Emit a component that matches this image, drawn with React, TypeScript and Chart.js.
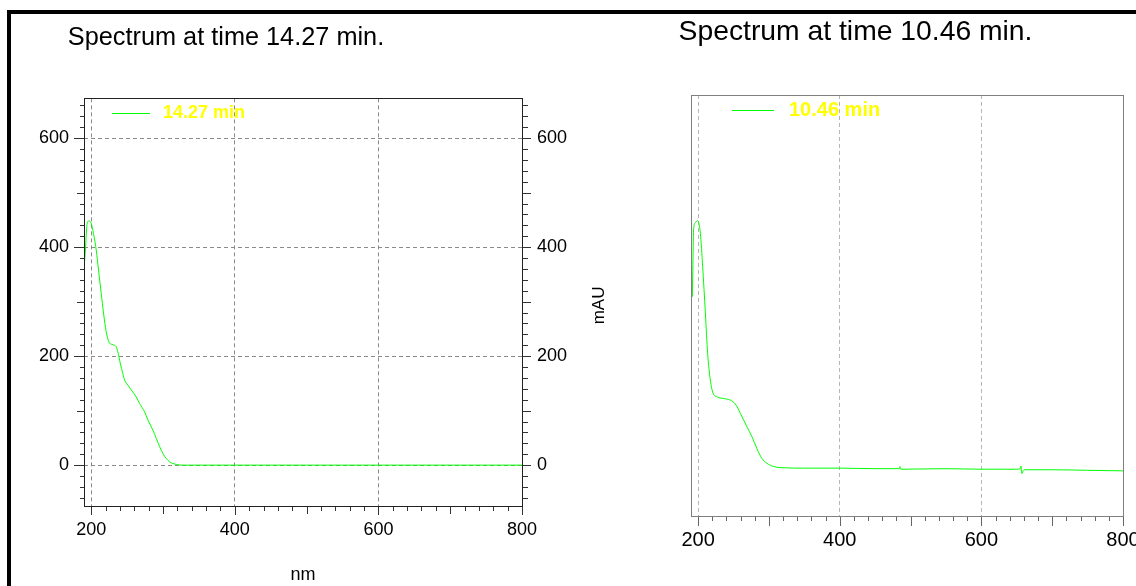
import React, { useEffect, useRef } from 'react';
import { Chart, registerables } from 'chart.js';

Chart.register(...registerables);

const FONT_FAMILY = '"Liberation Sans", Arial, Helvetica, sans-serif';
Chart.defaults.font.family = FONT_FAMILY;

// ---- Left panel: spectrum at 14.27 min ----
const LEFT_TITLE = 'Spectrum at time 14.27 min.';
const LEFT_SERIES_LABEL = '14.27 min';
const LEFT_WAVELENGTHS = [
  190, 192, 193.9, 196.2, 198.6, 200, 203.2, 207, 210.2, 214,
  217.2, 220.9, 224.6, 227.9, 232.5, 234.9, 237.1, 240.5, 244.1, 246.5,
  251.1, 255.8, 262.8, 267.4, 274.4, 279, 286, 290.7, 295.3, 300,
  304.7, 309.3, 313.9, 318.6, 325.6, 350, 400, 450, 500, 550,
  600, 650, 700, 750, 800,
];
const LEFT_MAU = [
  361, 395, 438, 448, 447, 444, 425, 395, 358, 315,
  279, 245, 226, 222, 220, 217, 208, 187, 168, 156,
  147, 138, 125, 113, 98, 83, 64, 49, 34, 21,
  12, 6, 3, 1.2, 0, 0, 0, 0, 0, 0,
  0, 0, 0, 0, 0,
];

// ---- Right panel: spectrum at 10.46 min ----
const RIGHT_TITLE = 'Spectrum at time 10.46 min.';
const RIGHT_SERIES_LABEL = '10.46 min';
const RIGHT_WAVELENGTHS = [
  190.5, 191.6, 193.8, 196, 199.4, 203.2, 206.5, 210.3, 213.5, 217.3,
  221.1, 226.8, 236.1, 245.5, 252.5, 259.6, 269, 276, 283, 290,
  297, 306.5, 316, 350, 400, 450, 484, 485, 486, 550,
  600, 650, 655, 656, 657, 660, 700, 750, 800,
];
const RIGHT_MAU = [
  401, 309, 435, 445, 449, 426, 364, 279, 205, 156,
  132, 125, 122, 119, 112, 95, 70, 52, 30, 12,
  3, -3, -5, -6, -6, -7, -7, -3, -8, -7,
  -8, -8, -7, -2, -16, -9, -9, -10, -11,
];

// ---- Axes ----
const X_TICK_VALUES = [200, 400, 600, 800];
const Y_TICK_VALUES = [0, 200, 400, 600];
const X_AXIS_TITLE = 'nm';
const Y_AXIS_TITLE = 'mAU';
const X_MIN = 190;
const X_MAX = 800;
const LEFT_Y_MIN = -75;
const LEFT_Y_MAX = 673;
const RIGHT_Y_MIN = -94;
const RIGHT_Y_MAX = 680;

const LINE_COLOR = '#00ff00';
const LEGEND_TEXT_COLOR = '#ffff00';

const toPoints = (xs: number[], ys: number[]) => xs.map((x, i) => ({ x, y: ys[i] }));

const axisDecorPlugin = {
  id: 'axisDecor',
  afterDraw(chart: any, _args: any, opts: any) {
    const { ctx, chartArea } = chart;
    const L = Math.round(chartArea.left);
    const R = Math.round(chartArea.right);
    const T = Math.round(chartArea.top);
    const B = Math.round(chartArea.bottom);
    ctx.save();
    ctx.lineWidth = 1;
    ctx.setLineDash([]);
    (opts.marks || []).forEach((m: any) => {
      const s = chart.scales[m.scale];
      ctx.strokeStyle = m.color;
      ctx.beginPath();
      for (let v = Math.ceil(s.min / m.step) * m.step; v <= s.max + 1e-9; v += m.step) {
        const len = v % 200 === 0 ? m.major : v % 100 === 0 ? m.mid : m.minor;
        const p = Math.round(s.getPixelForValue(v)) + 0.5;
        if (m.side === 'bottom') {
          ctx.moveTo(p, B);
          ctx.lineTo(p, B + len + 1);
        } else if (m.side === 'left') {
          ctx.moveTo(L + 1, p);
          ctx.lineTo(L - len, p);
        } else {
          ctx.moveTo(R, p);
          ctx.lineTo(R + len + 1, p);
        }
      }
      ctx.stroke();
    });
    ctx.strokeStyle = opts.frameColor;
    ctx.strokeRect(L + 0.5, T + 0.5, R - L, B - T);
    ctx.restore();
  },
};

const insideLegendPlugin = {
  id: 'insideLegend',
  afterDraw(chart: any, _args: any, o: any) {
    const ds = chart.data.datasets[0];
    const { ctx, chartArea } = chart;
    const y = Math.round(chartArea.top + o.offsetY);
    ctx.save();
    ctx.strokeStyle = ds.borderColor;
    ctx.lineWidth = 1;
    ctx.beginPath();
    ctx.moveTo(chartArea.left + o.lineFrom, y + 0.5);
    ctx.lineTo(chartArea.left + o.lineTo, y + 0.5);
    ctx.stroke();
    ctx.fillStyle = o.color;
    ctx.font = `bold ${o.size}px ${FONT_FAMILY}`;
    ctx.textBaseline = 'middle';
    ctx.textAlign = 'left';
    ctx.fillText(ds.label, chartArea.left + o.textX, y + 0.5);
    ctx.restore();
  },
};

const setTicks = (values: number[]) => (s: any) => {
  s.ticks = values.map((v) => ({ value: v }));
};

function leftConfig(): any {
  return {
    type: 'line',
    data: {
      datasets: [
        {
          label: LEFT_SERIES_LABEL,
          data: toPoints(LEFT_WAVELENGTHS, LEFT_MAU),
          borderColor: LINE_COLOR,
          borderWidth: 1,
          pointRadius: 0,
          fill: false,
          cubicInterpolationMode: 'monotone',
        },
      ],
    },
    options: {
      animation: false,
      responsive: false,
      maintainAspectRatio: false,
      events: [],
      layout: { padding: { left: 0, right: 0, top: 0, bottom: 0 } },
      plugins: {
        legend: { display: false },
        tooltip: { enabled: false },
        title: {
          display: true,
          text: LEFT_TITLE,
          align: 'center',
          color: '#000',
          font: { family: FONT_FAMILY, size: 25.3, weight: 'normal' },
          padding: { top: 8.5, bottom: 45.5 },
        },
        axisDecor: {
          frameColor: '#222',
          marks: [
            { scale: 'x', side: 'bottom', step: 20, minor: 4, mid: 7, major: 8, color: '#333' },
            { scale: 'y', side: 'left', step: 20, minor: 4, mid: 7, major: 10, color: '#333' },
            { scale: 'y2', side: 'right', step: 20, minor: 5, mid: 8, major: 8, color: '#333' },
          ],
        },
        insideLegend: { offsetY: 15, lineFrom: 28, lineTo: 66, textX: 79, size: 18, color: LEGEND_TEXT_COLOR },
      },
      scales: {
        x: {
          type: 'linear',
          position: 'bottom',
          min: X_MIN,
          max: X_MAX,
          afterBuildTicks: setTicks(X_TICK_VALUES),
          afterFit: (s: any) => {
            s.height = 98;
          },
          ticks: { color: '#000', font: { family: FONT_FAMILY, size: 18 }, padding: 13, maxRotation: 0, autoSkip: false },
          grid: { color: '#8a8a8a', lineWidth: 1, drawTicks: false },
          border: { display: false, dash: [4, 3] },
          title: {
            display: true,
            text: X_AXIS_TITLE,
            color: '#000',
            font: { family: FONT_FAMILY, size: 18 },
            padding: { top: 0, bottom: 17.8 },
          },
        },
        y: {
          type: 'linear',
          position: 'left',
          min: LEFT_Y_MIN,
          max: LEFT_Y_MAX,
          afterBuildTicks: setTicks(Y_TICK_VALUES),
          afterFit: (s: any) => {
            s.width = 204;
          },
          ticks: { color: '#000', font: { family: FONT_FAMILY, size: 18 }, padding: 15, autoSkip: false },
          grid: { color: '#8a8a8a', lineWidth: 1, drawTicks: false },
          border: { display: false, dash: [4, 3] },
        },
        y2: {
          type: 'linear',
          position: 'right',
          min: LEFT_Y_MIN,
          max: LEFT_Y_MAX,
          afterBuildTicks: setTicks(Y_TICK_VALUES),
          afterFit: (s: any) => {
            s.width = 50;
          },
          ticks: { color: '#000', font: { family: FONT_FAMILY, size: 18 }, padding: 15, autoSkip: false },
          grid: { display: false, drawTicks: false },
          border: { display: false },
        },
      },
    },
    plugins: [axisDecorPlugin, insideLegendPlugin],
  };
}

function rightConfig(): any {
  return {
    type: 'line',
    data: {
      datasets: [
        {
          label: RIGHT_SERIES_LABEL,
          data: toPoints(RIGHT_WAVELENGTHS, RIGHT_MAU),
          borderColor: LINE_COLOR,
          borderWidth: 1,
          pointRadius: 0,
          fill: false,
          cubicInterpolationMode: 'monotone',
        },
      ],
    },
    options: {
      animation: false,
      responsive: false,
      maintainAspectRatio: false,
      events: [],
      layout: { padding: { left: 0, right: 65, top: 0, bottom: 0 } },
      plugins: {
        legend: { display: false },
        tooltip: { enabled: false },
        title: {
          display: true,
          text: RIGHT_TITLE,
          align: 'center',
          color: '#000',
          font: { family: FONT_FAMILY, size: 28.3, weight: 'normal' },
          padding: { top: 1.7, bottom: 45.3 },
        },
        axisDecor: {
          frameColor: '#7f7f7f',
          marks: [{ scale: 'x', side: 'bottom', step: 20, minor: 4, mid: 9, major: 9, color: '#666' }],
        },
        insideLegend: { offsetY: 15.5, lineFrom: 41, lineTo: 83, textX: 98, size: 20, color: LEGEND_TEXT_COLOR },
      },
      scales: {
        x: {
          type: 'linear',
          position: 'bottom',
          min: X_MIN,
          max: X_MAX,
          afterBuildTicks: setTicks(X_TICK_VALUES),
          afterFit: (s: any) => {
            s.height = 88;
          },
          ticks: { color: '#000', font: { family: FONT_FAMILY, size: 20 }, padding: 12, maxRotation: 0, autoSkip: false },
          grid: { color: '#b5b5b5', lineWidth: 1, drawTicks: false },
          border: { display: false, dash: [4, 3] },
        },
        y: {
          type: 'linear',
          position: 'left',
          min: RIGHT_Y_MIN,
          max: RIGHT_Y_MAX,
          afterFit: (s: any) => {
            s.width = 103;
          },
          ticks: { display: false },
          grid: { display: false, drawTicks: false },
          border: { display: false },
          title: {
            display: true,
            text: Y_AXIS_TITLE,
            color: '#000',
            font: { family: FONT_FAMILY, size: 17 },
            padding: { top: 1.3, bottom: 0 },
          },
        },
      },
    },
    plugins: [axisDecorPlugin, insideLegendPlugin],
  };
}

function ChartCanvas(props: { build: () => any; left: number; top: number; width: number; height: number }) {
  const ref = useRef<HTMLCanvasElement | null>(null);
  useEffect(() => {
    if (!ref.current) return;
    const chart = new Chart(ref.current, props.build());
    return () => chart.destroy();
  }, []);
  return (
    <canvas
      ref={ref}
      width={props.width}
      height={props.height}
      style={{ position: 'absolute', left: props.left, top: props.top, width: props.width, height: props.height }}
    />
  );
}

export default function App() {
  return (
    <div
      style={{
        position: 'fixed',
        left: 0,
        top: 0,
        width: 1136,
        height: 586,
        overflow: 'hidden',
        background: '#fff',
      }}
    >
      <div
        style={{
          position: 'absolute',
          left: 7,
          top: 10,
          width: 1200,
          height: 700,
          borderTop: '4px solid #000',
          borderLeft: '4px solid #000',
        }}
      />
      <ChartCanvas build={leftConfig} left={-120} top={14} width={692} height={590} />
      <ChartCanvas build={rightConfig} left={588} top={14} width={600} height={590} />
    </div>
  );
}
